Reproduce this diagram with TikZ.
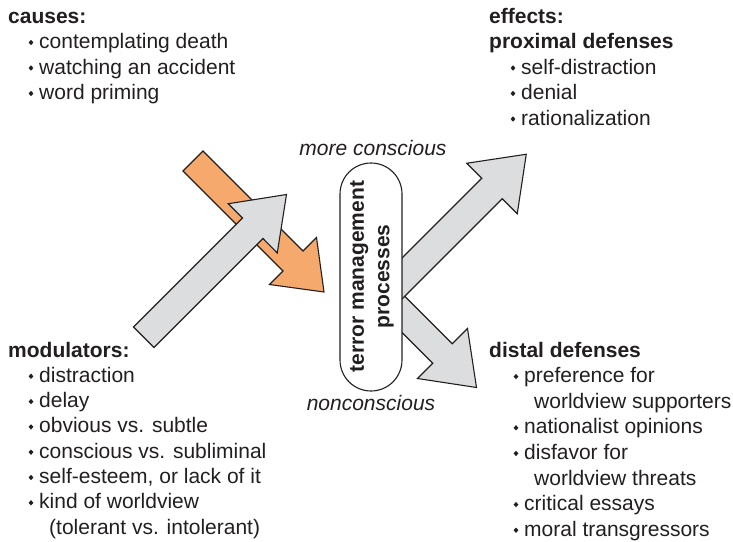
\documentclass[tikz,border=0pt]{standalone}
\usepackage{fontspec}
\setmainfont{Liberation Sans}
\usetikzlibrary{shapes.geometric}
\definecolor{ink}{HTML}{231F20}
\definecolor{gfill}{HTML}{DCDDDF}
\definecolor{ofill}{HTML}{F6A96C}
\newcommand\fs{\fontsize{21}{25.6}\selectfont}
\tikzset{
  garrow/.style={fill=gfill, draw=ink, line width=1.1pt, line join=miter},
  oarrow/.style={fill=ofill, draw=ink, line width=1.1pt, line join=miter},
  pillbox/.style={fill=white, draw=ink, line width=1.1pt, rounded corners=31pt},
  txt/.style={anchor=base west, inner sep=0pt, font=\fs, text=ink},
  hdr/.style={txt, font=\fs\bfseries},
  itl/.style={anchor=base, inner sep=0pt, font=\fs\itshape, text=ink},
  bul/.style={diamond, fill=ink, inner sep=0pt, minimum width=5pt, minimum height=5.5pt}
}
\newcommand\itm[4]{\node[txt] (#1) at (#2,#3) {#4};
  \node[bul] (#1-b) at ([xshift=-8pt,yshift=6pt]#1.base west) {};}
\begin{document}
\begin{tikzpicture}[x=1pt,y=-1pt]
\useasboundingbox (0,0) rectangle (733,541);
\fill[white] (0,0) rectangle (733,541);

% orange arrow (causes)
\draw[oarrow] (203,151) -- (303,251) -- (316.5,237.5) -- (324,292) -- (269.5,284.5) -- (283,271) -- (183,171) -- cycle;
% gray arrow (modulators)
\draw[garrow] (133.5,327) -- (242.5,218) -- (228.25,203.75) -- (286.5,194.5) -- (277.25,253) -- (263,238.5) -- (154,347.5) -- cycle;
% gray arrow (distal)
\draw[garrow] (394.25,285.75) -- (452.25,343.75) -- (467.5,328.5) -- (476.5,387.5) -- (417.5,378.5) -- (432.75,363.25) -- (374.75,305.25) -- cycle;
% gray arrow (proximal)
\draw[garrow] (375,285) -- (481.75,178.25) -- (466.75,163.25) -- (526.25,154.25) -- (517.25,213.75) -- (502.25,198.75) -- (395.5,305.5) -- cycle;

% pill
\draw[pillbox] (340,163) rectangle (402,391);
\node[rotate=90, align=center, inner sep=0pt, font=\fs\bfseries, text=ink] (tmp) at (372,276.5) {terror management\\processes};

\node[itl] (mc) at (373,155) {more conscious};
\node[itl] (nc) at (371,410) {nonconscious};

% causes
\node[hdr] (causes) at (8,23) {causes:};
\itm{c1}{39}{48.5}{contemplating death}
\itm{c2}{39}{74}{watching an accident}
\itm{c3}{39}{99.5}{word priming}

% effects
\node[hdr] (effects) at (489,23) {effects:};
\node[hdr] (prox) at (489,48.5) {proximal defenses};
\itm{e1}{521}{74}{self-distraction}
\itm{e2}{521}{99.5}{denial}
\itm{e3}{521}{125}{rationalization}

% modulators
\node[hdr] (mod) at (8,357) {modulators:};
\itm{m1}{39}{382.3}{distraction}
\itm{m2}{39}{407.6}{delay}
\itm{m3}{39}{432.9}{obvious vs. subtle}
\itm{m4}{39}{458.2}{conscious vs. subliminal}
\itm{m5}{39}{483.5}{self-esteem, or lack of it}
\itm{m6}{39}{508.8}{kind of worldview}
\node[txt] (m6b) at (49,534.1) {(tolerant vs. intolerant)};

% distal
\node[hdr] (dist) at (489,357) {distal defenses};
\itm{d1}{524}{382.6}{preference for}
\node[txt] (d1b) at (534,408.2) {worldview supporters};
\itm{d2}{524}{433.8}{nationalist opinions}
\itm{d3}{524}{459.4}{disfavor for}
\node[txt] (d3b) at (534,485) {worldview threats};
\itm{d4}{524}{510.6}{critical essays}
\itm{d5}{524}{536.2}{moral transgressors}
\end{tikzpicture}
\end{document}
